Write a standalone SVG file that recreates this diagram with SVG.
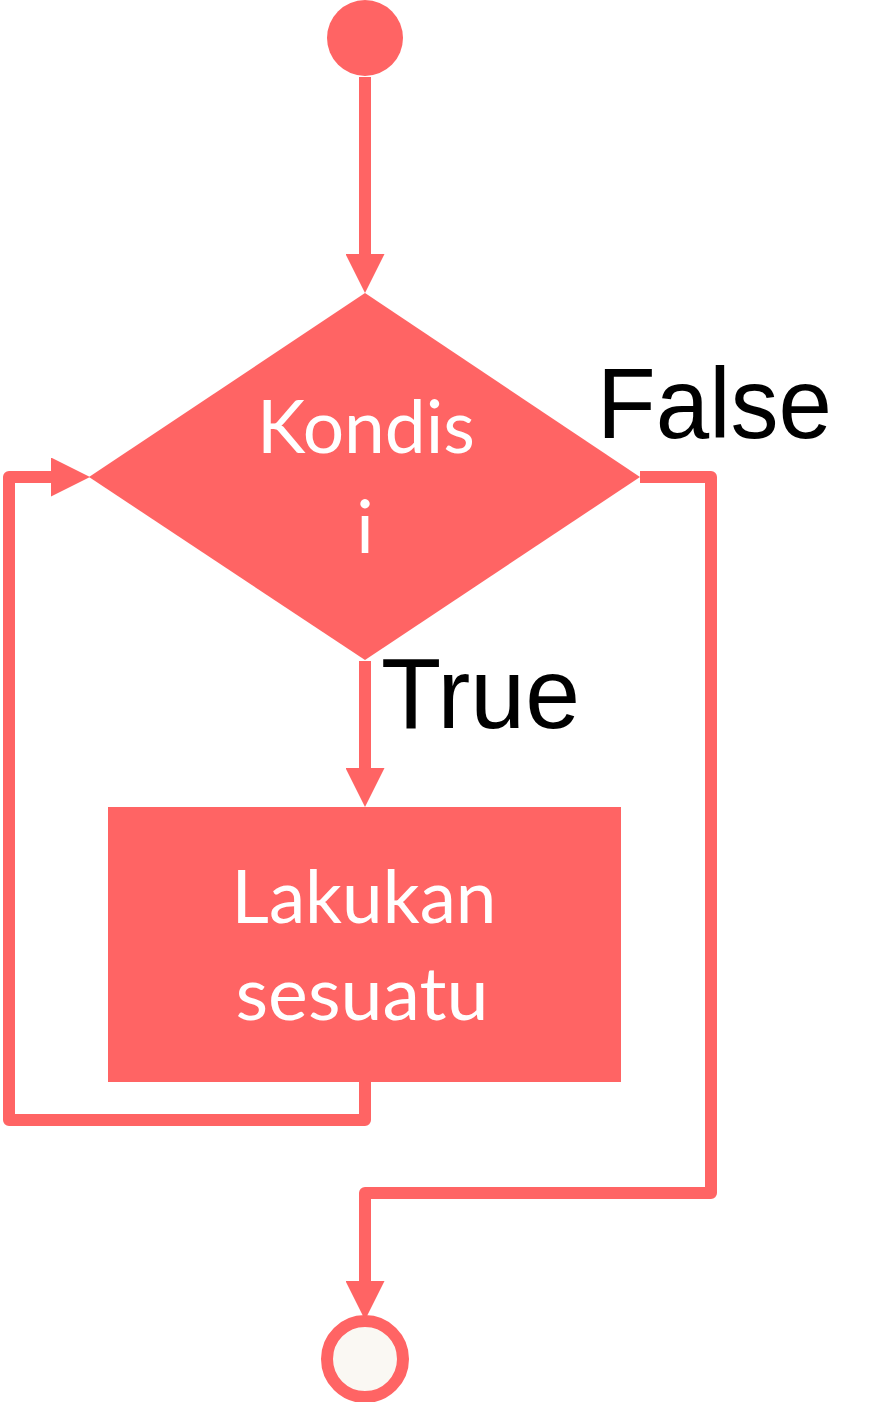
<svg xmlns="http://www.w3.org/2000/svg" width="895" height="1402" viewBox="0 0 895 1402">
  <style>
    .conn { fill: none; stroke: #FF6464; stroke-width: 12; stroke-linejoin: round; stroke-linecap: butt; }
    .shape { fill: #FF6464; }
    .inner { font-family: Lato, "Open Sans", sans-serif; font-size: 73px; fill: #FFFFFF; text-anchor: middle; }
    .label { font-family: "Liberation Sans", Arial, sans-serif; font-size: 100px; fill: #000000; }
  </style>
  <defs>
    <marker id="arrow" markerUnits="userSpaceOnUse" viewBox="0 0 39 39" markerWidth="39" markerHeight="39" refX="0" refY="19.5" orient="auto">
      <path d="M0,0 L39,19.5 L0,39 Z" fill="#FF6464"/>
    </marker>
  </defs>
  <rect width="895" height="1402" fill="#FFFFFF"/>

  <g id="connectors">
    <path class="conn" d="M365,77 V254" marker-end="url(#arrow)"/>
    <path class="conn" d="M365,661 V768" marker-end="url(#arrow)"/>
    <path class="conn" d="M365,1082 V1120 H9 V477 H51" marker-end="url(#arrow)"/>
    <path class="conn" d="M640,477 H711 V1193 H365 V1281" marker-end="url(#arrow)"/>
  </g>

  <g id="start">
    <circle class="shape" cx="365" cy="38" r="38"/>
  </g>

  <g id="decision">
    <polygon class="shape" points="365,293 640,477 365,660 89,477"/>
    <text class="inner" x="366" y="453" textLength="218" lengthAdjust="spacingAndGlyphs">Kondis</text>
    <text class="inner" x="365" y="553">i</text>
  </g>

  <g id="process">
    <rect class="shape" x="108" y="807" width="513" height="275"/>
    <text class="inner" x="364" y="923" textLength="265" lengthAdjust="spacingAndGlyphs">Lakukan</text>
    <text class="inner" x="362" y="1020" textLength="253" lengthAdjust="spacingAndGlyphs">sesuatu</text>
  </g>

  <g id="end">
    <circle cx="365" cy="1359" r="38" fill="#FAF8F3" stroke="#FF6464" stroke-width="12"/>
  </g>

  <g id="labels">
    <text class="label" x="597" y="438" textLength="235" lengthAdjust="spacingAndGlyphs">False</text>
    <text class="label" x="381" y="728" textLength="199" lengthAdjust="spacingAndGlyphs">True</text>
  </g>
</svg>
